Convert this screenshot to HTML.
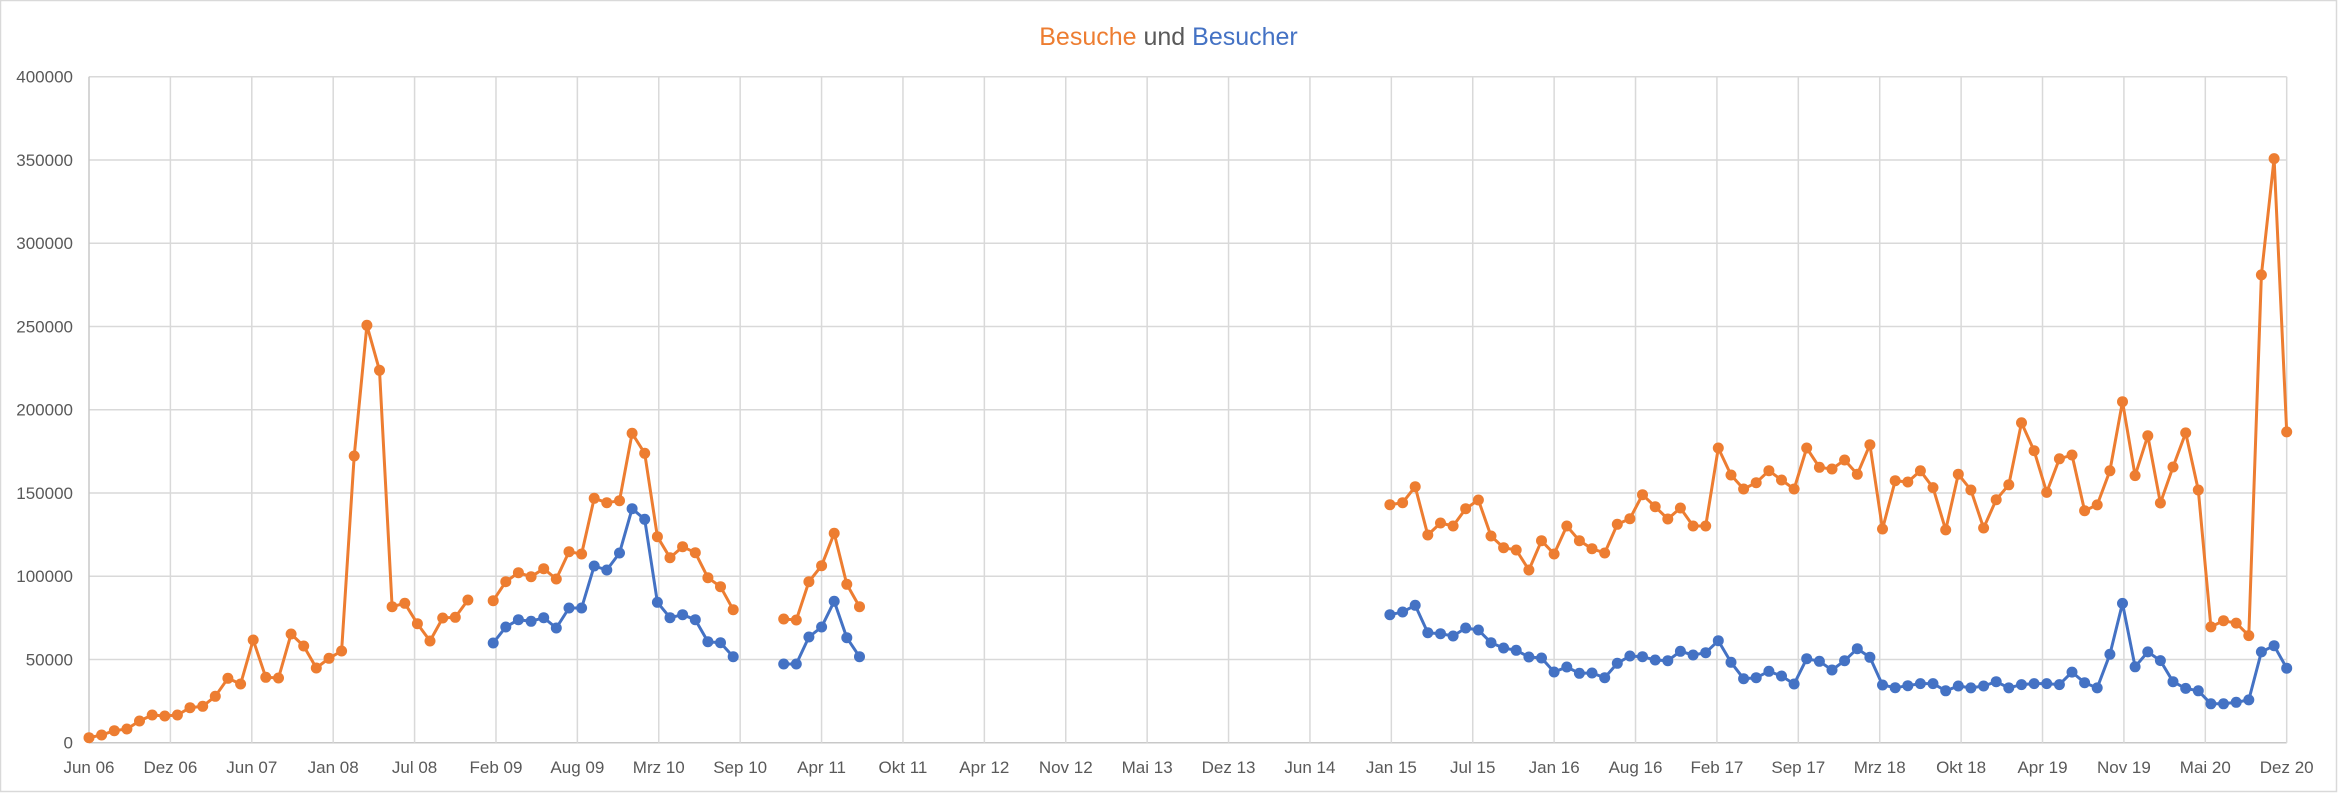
<!DOCTYPE html>
<html><head><meta charset="utf-8"><style>
html,body{margin:0;padding:0;background:#fff;}
svg{display:block;font-family:"Liberation Sans",sans-serif;}
</style></head><body>
<svg id="c" width="2338" height="793" viewBox="0 0 2338 793" xmlns="http://www.w3.org/2000/svg">
<rect x="0.5" y="0.5" width="2336" height="791" fill="#fff" stroke="#d9d9d9" stroke-width="1.5"/>
<text x="1168.5" y="45" text-anchor="middle" font-size="25" fill="#595959"><tspan fill="#ED7D31">Besuche</tspan> und <tspan fill="#4472C4">Besucher</tspan></text>
<g id="grid"></g>
<g id="ylab" font-size="17" fill="#595959" text-anchor="end"></g>
<g id="xlab" font-size="17" fill="#595959" text-anchor="middle"></g>
<g id="series"></g>
</svg>
<script>
var NS="http://www.w3.org/2000/svg";
function el(p,t,a,txt){var e=document.createElementNS(NS,t);for(var k in a)e.setAttribute(k,a[k]);if(txt!=null)e.textContent=txt;p.appendChild(e);return e;}
var g=document.getElementById('grid'),yl=document.getElementById('ylab'),xl=document.getElementById('xlab'),s=document.getElementById('series');
var x0=89,x1=2286.7,y0=742.7,yTop=76.7;
var dy=(y0-yTop)/8;
for(var k=0;k<=8;k++){var y=y0-k*dy;
 el(g,'line',{x1:x0,x2:x1,y1:y,y2:y,stroke:k==0?'#c8c8c8':'#d9d9d9','stroke-width':1.5});
 el(yl,'text',{x:73,y:y+6},String(k*50000));}
var labs=["Jun 06","Dez 06","Jun 07","Jan 08","Jul 08","Feb 09","Aug 09","Mrz 10","Sep 10","Apr 11","Okt 11","Apr 12","Nov 12","Mai 13","Dez 13","Jun 14","Jan 15","Jul 15","Jan 16","Aug 16","Feb 17","Sep 17","Mrz 18","Okt 18","Apr 19","Nov 19","Mai 20","Dez 20"];
var dx=(x1-x0)/27;
for(var i=0;i<28;i++){var x=x0+i*dx;
 el(g,'line',{x1:x,x2:x,y1:yTop,y2:y0,stroke:i==0?'#c8c8c8':'#d9d9d9','stroke-width':1.5});
 el(xl,'text',{x:x,y:773},labs[i]);}
var pm=(x1-x0)/174;
function X(m){return x0+m*pm;}
// segments: [startMonth, yOffset, scale, values]
var orange=[
 [0,300,3,[1313,1305,1292,1287,1263,1245,1248,1245,1223,1219,1189,1135,1152,1020,1132,1134,1002,1038,1104,1075,1053,468,76,211,920,910,971,1023,954,952,900]],
 [32,400,3,[602,545,518,530,506,537,455,462,295,308,302,100,160,410,473,440,458,533,560,629]],
 [55,400,3,[657,660,545,497,400,553,620]],
 [103,420,3,[254,248,200,345,309,318,266,240,348,383,390,450,362,402,318,362,386,399,313,296,224,260,297,264,318,318,84,165,207,188,152,180,207,84,142,147,120,163,74,327,182,186]],
 [145,40,2.082,[897,932,1020,904,937,1016,957,926,797,855,942,872,864,980,968,897,753,907,824,964,889,818,937,1222,1209,1214,1240,489,247,816]]
];
var blue=[
 [32,400,3,[729,681,659,664,653,684,624,624,498,510,459,326,358,607,653,644,659,725,728,770]],
 [55,400,3,[792,792,711,681,604,713,770]],
 [103,420,3,[584,576,556,638,641,648,624,630,668,684,691,711,714,756,741,760,759,773,730,708,710,720,722,694,705,698,662,727,776,773,754,768,792,716,724,750,722,686,712,795,803,797]],
 [145,40,2.082,[1340,1340,1355,1345,1349,1345,1336,1349,1342,1340,1340,1342,1316,1338,1349,1279,1173,1305,1274,1292,1336,1350,1355,1382,1382,1379,1374,1274,1261,1308]]
];
function draw(segs,col){
 // merge contiguous segments
 var pts={};
 segs.forEach(function(sg){sg[3].forEach(function(v,j){pts[sg[0]+j]=sg[1]+v/sg[2];});});
 var ms=Object.keys(pts).map(Number).sort(function(a,b){return a-b;});
 var runs=[],cur=[];
 ms.forEach(function(m,i){if(i>0&&m!=ms[i-1]+1){runs.push(cur);cur=[];}cur.push(m);});
 runs.push(cur);
 runs.forEach(function(r){
  var d=r.map(function(m,i){return (i?'L':'M')+X(m).toFixed(1)+' '+pts[m].toFixed(1);}).join(' ');
  el(s,'path',{d:d,fill:'none',stroke:col,'stroke-width':3,'stroke-linejoin':'round'});
 });
 ms.forEach(function(m){el(s,'circle',{cx:X(m).toFixed(1),cy:pts[m].toFixed(1),r:5.5,fill:col});});
}
draw(orange,'#ED7D31');
draw(blue,'#4472C4');
</script>
</body></html>
